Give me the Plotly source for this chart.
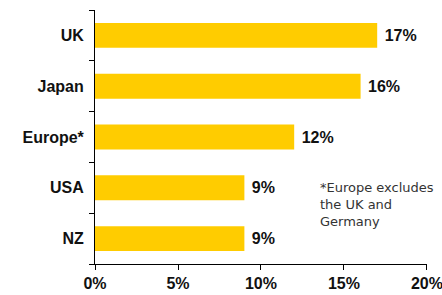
import plotly.graph_objects as go

categories = ["UK", "Japan", "Europe*", "USA", "NZ"]
values = [17, 16, 12, 9, 9]
x_ticks = [0, 5, 10, 15, 20]
x_tick_labels = ["0%", "5%", "10%", "15%", "20%"]
note = "*Europe excludes<br>the UK and<br>Germany"

fig = go.Figure(go.Bar(
    x=values, y=categories, orientation="h",
    marker=dict(color="#FFCC00", line=dict(width=0)),
    text=[" %d%%" % v for v in values],
    textposition="outside",
    textfont=dict(family="Liberation Sans, Arial", size=16, color="#111111", weight="bold"),
    cliponaxis=False,
    width=0.49,
    hoverinfo="skip",
))

fig.update_layout(
    width=442, height=295,
    margin=dict(l=95, r=15, t=10, b=31, autoexpand=False),
    paper_bgcolor="white", plot_bgcolor="white",
    showlegend=False,
    font=dict(family="Liberation Sans, Arial", size=16, color="#111111"),
)
fig.update_xaxes(
    range=[0, 20.001], tickvals=x_ticks, ticktext=x_tick_labels,
    showgrid=False, zeroline=False, automargin=False, ticklabeloverflow="allow",
    showline=True, linecolor="black", linewidth=1,
    ticks="outside", ticklen=5, tickcolor="black",
    tickfont=dict(family="Liberation Sans, Arial", size=16, color="#111111", weight="bold"),
)
fig.update_yaxes(
    categoryorder="array", categoryarray=categories[::-1],
    showgrid=False, zeroline=False, automargin=False,
    showline=True, linecolor="black", linewidth=1,
    ticks="outside", ticklen=5, tickcolor="black", tickson="boundaries",
    ticklabelstandoff=7,
    tickfont=dict(family="Liberation Sans, Arial", size=16, color="#111111", weight="bold"),
)

fig.add_annotation(
    x=13.45, y=0.338, xref="x", yref="paper",
    xanchor="left", yanchor="top", align="left", showarrow=False,
    text=note,
    font=dict(family="DejaVu Sans, Verdana", size=13, color="#333333"),
)

fig.write_html(
    "out.html",
    config={"displayModeBar": False, "staticPlot": True},
    post_script="document.body.style.margin='0';document.body.style.overflow='hidden';",
)
